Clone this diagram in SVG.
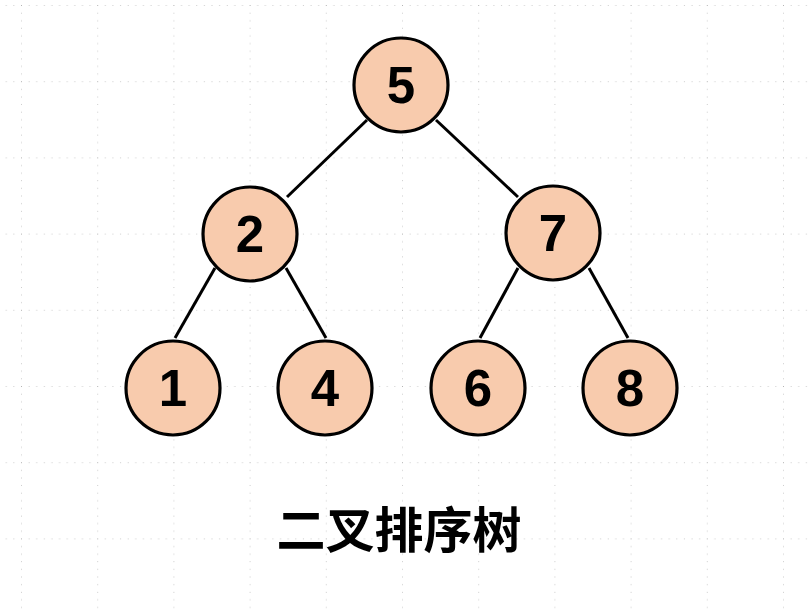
<svg xmlns="http://www.w3.org/2000/svg" width="808" height="609" viewBox="0 0 808 609">
<defs>
<pattern id="grid" x="21" y="5" width="76.2" height="76.2" patternUnits="userSpaceOnUse">
<line x1="0" y1="0" x2="0" y2="76.2" stroke="#9a9a9a" stroke-width="1" stroke-dasharray="1 6.62"/>
<line x1="0" y1="0" x2="76.2" y2="0" stroke="#9a9a9a" stroke-width="1" stroke-dasharray="1 6.62"/>
</pattern>
<style>
.node circle{fill:#F8CBAD;stroke:#000;stroke-width:3.2}
.node text{font-family:"Liberation Sans",Arial,sans-serif;font-weight:bold;font-size:51px;text-anchor:middle;fill:#000}
.edges line{stroke:#000;stroke-width:3}
.title{font-family:"Noto Sans CJK SC","Noto Sans",sans-serif;font-weight:bold;font-size:49px;text-anchor:middle;fill:#000}
</style>
</defs>
<rect width="808" height="609" fill="#fff"/>
<rect width="808" height="609" fill="url(#grid)"/>
<g id="edges" class="edges">
<line x1="367" y1="120" x2="287" y2="197"/>
<line x1="436" y1="120" x2="518" y2="197"/>
<line x1="215" y1="268" x2="175" y2="338"/>
<line x1="286" y1="268" x2="326" y2="338"/>
<line x1="518" y1="268" x2="480" y2="338"/>
<line x1="589" y1="268" x2="628" y2="338"/>
</g>
<g id="n5" class="node"><circle cx="401" cy="85" r="47"/><text x="401" y="103">5</text></g>
<g id="n2" class="node"><circle cx="250" cy="234" r="47"/><text x="250" y="252">2</text></g>
<g id="n7" class="node"><circle cx="553" cy="233" r="47"/><text x="553" y="251">7</text></g>
<g id="n1" class="node"><circle cx="173" cy="388" r="47"/><text x="173" y="406">1</text></g>
<g id="n4" class="node"><circle cx="325" cy="388" r="47"/><text x="325" y="406">4</text></g>
<g id="n6" class="node"><circle cx="478" cy="388" r="47"/><text x="478" y="406">6</text></g>
<g id="n8" class="node"><circle cx="630" cy="388" r="47"/><text x="630" y="406">8</text></g>
<text class="title" x="399" y="548">二叉排序树</text>
</svg>
